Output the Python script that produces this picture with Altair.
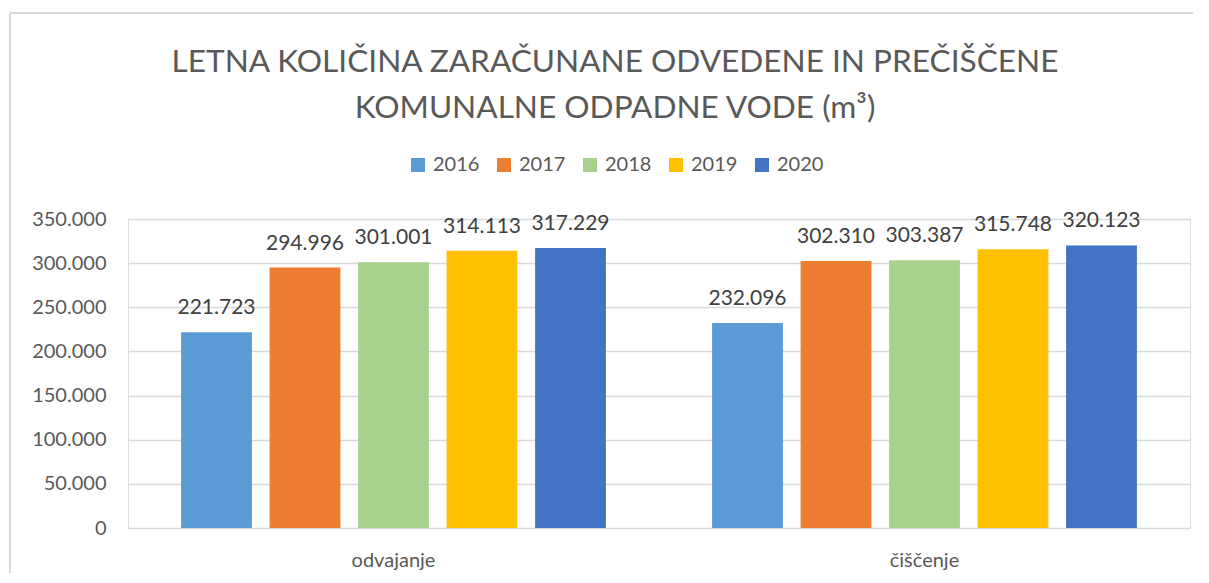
import altair as alt
import pandas as pd

categories = ["odvajanje", "čiščenje"]
years = ["2016", "2017", "2018", "2019", "2020"]
odvajanje = [221723, 294996, 301001, 314113, 317229]
ciscenje = [232096, 302310, 303387, 315748, 320123]
colors = ["#5B9BD5", "#ED7D31", "#A9D18E", "#FFC000", "#4472C4"]
y_ticks = [0, 50000, 100000, 150000, 200000, 250000, 300000, 350000]
title_text = "LETNA KOLIČINA ZARAČUNANE ODVEDENE IN PREČIŠČENE\nKOMUNALNE ODPADNE VODE (m³)"

rows = []
for cat, vals in zip(categories, [odvajanje, ciscenje]):
    for yr, v in zip(years, vals):
        rows.append({"kategorija": cat, "leto": yr, "vrednost": v})
df = pd.DataFrame(rows)

FONT = "Lato"
GREY = "#595959"

x_enc = alt.X("kategorija:N", sort=categories, title=None,
              scale=alt.Scale(paddingInner=0, paddingOuter=0),
              axis=alt.Axis(labelFontSize=20, labelColor=GREY, labelFont=FONT,
                            ticks=False, domain=False, labelPadding=22,
                            labelAngle=0))
xo_enc = alt.XOffset("leto:N", sort=years,
                     scale=alt.Scale(paddingInner=0.2, paddingOuter=0.6))
y_enc = alt.Y("vrednost:Q", title=None,
              scale=alt.Scale(domain=[0, 350000], nice=False),
              axis=alt.Axis(values=y_ticks, labelFontSize=20, labelColor=GREY,
                            labelFont=FONT, ticks=False, domain=False,
                            labelPadding=22, gridColor="#D9D9D9", gridWidth=1.3,
                            labelExpr="replace(format(datum.value, ','), ',', '.')"))

bars = alt.Chart(df).mark_bar().encode(
    x=x_enc, xOffset=xo_enc, y=y_enc,
    color=alt.Color("leto:N", sort=years,
                    scale=alt.Scale(domain=years, range=colors),
                    legend=alt.Legend(title=None, orient="none", direction="horizontal",
                                      legendX=280, legendY=-64,
                                      symbolType="square", symbolSize=196,
                                      symbolStrokeWidth=0,
                                      labelFontSize=20, labelColor=GREY,
                                      labelFont=FONT, labelOffset=5,
                                      columnPadding=14, padding=0))
)

labels = alt.Chart(df).transform_calculate(
    lbl="replace(format(datum.vrednost, ','), ',', '.')"
).mark_text(font=FONT, fontSize=21, color="#404040", baseline="alphabetic",
            dy=-18).encode(
    x=x_enc, xOffset=xo_enc, y=y_enc, text="lbl:N"
)

title = alt.Chart(alt.Data(values=[{"t": title_text}])).mark_text(
    font=FONT, fontSize=31.6, color=GREY, baseline="alphabetic", align="center",
    lineBreak="\n", lineHeight=46
).encode(text="t:N", x=alt.value(487), y=alt.value(-147))

border_top = alt.Chart(alt.Data(values=[{"a": 1}])).mark_rule(
    color="#D9D9D9", strokeWidth=2
).encode(x=alt.value(-118), x2=alt.value(1400), y=alt.value(-206))
border_left = alt.Chart(alt.Data(values=[{"a": 1}])).mark_rule(
    color="#D9D9D9", strokeWidth=2
).encode(x=alt.value(-118), y=alt.value(-206), y2=alt.value(500))

chart = alt.layer(border_top, border_left, title, bars, labels).properties(
    width=1062, height=309,
    autosize=alt.AutoSizeParams(type="none"),
    padding={"left": 120, "top": 211, "right": 3, "bottom": 45},
).configure_view(stroke=None).configure(background="white")

chart.save("out.html", embed_options={"renderer": "svg", "actions": False})
